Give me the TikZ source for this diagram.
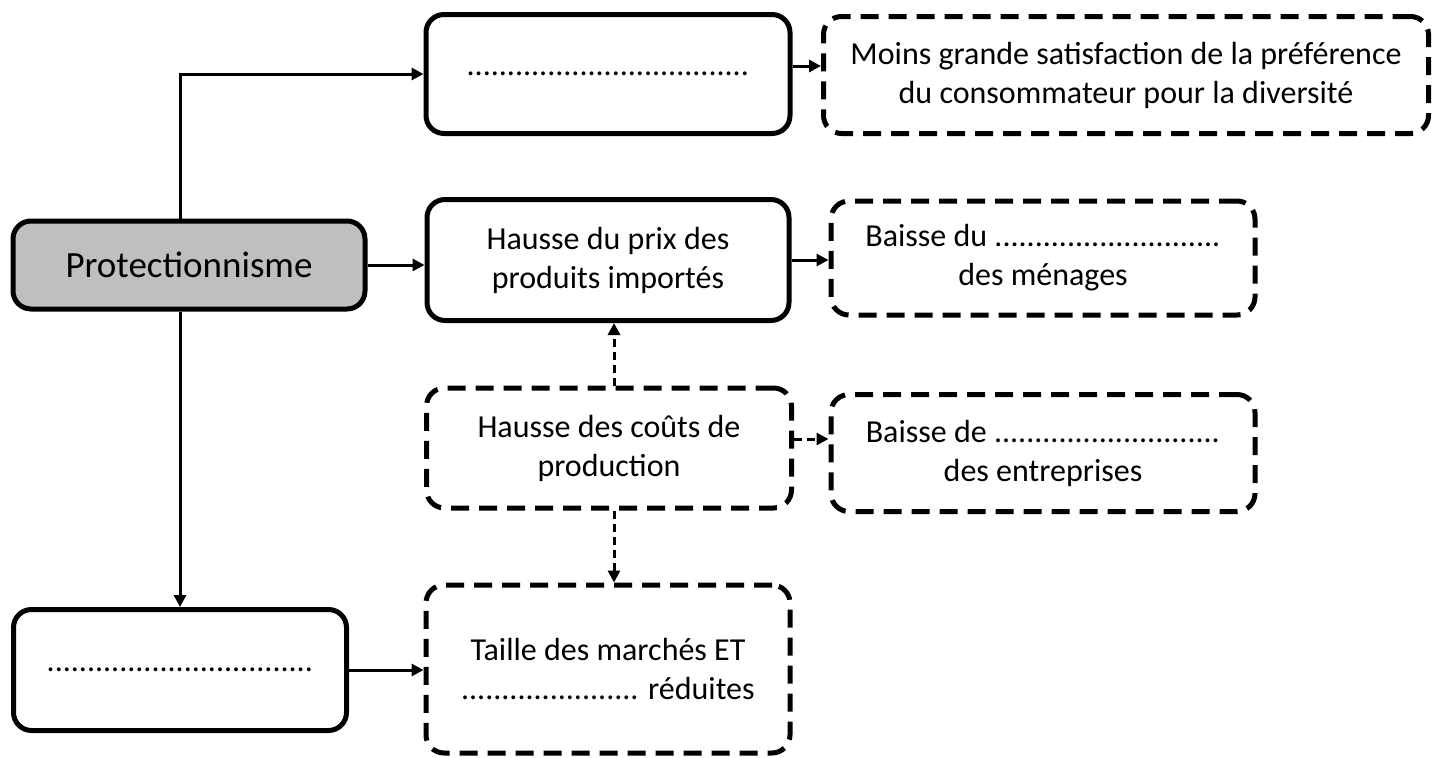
\documentclass[tikz,border=0pt]{standalone}
\usepackage{fontspec}
\setmainfont{Carlito}
\usetikzlibrary{arrows.meta,positioning}

\begin{document}
\begin{tikzpicture}[x=1pt,y=-1pt,
  solidbox/.style={draw,line width=5pt,rounded corners=18pt,align=center,
    inner sep=0pt,font=\fontsize{32}{39}\selectfont},
  dashbox/.style={solidbox,dash pattern=on 18pt off 10pt},
  link/.style={line width=3pt,-{Triangle[length=12pt,width=12pt]}},
  dlink/.style={link,dash pattern=on 8pt off 5pt}]
\useasboundingbox (0,0) rectangle (1433,758);

\node[solidbox,fill=black!25,minimum width=352pt,minimum height=88pt,
  font=\fontsize{37}{40}\selectfont] (b0) at (189,265) {Protectionnisme};
\node[solidbox,minimum width=364pt,minimum height=119pt] (b1) at (608,74)
  {...................................};
\node[solidbox,minimum width=362pt,minimum height=121pt] (b2) at (608,260)
  {Hausse du prix des\\produits importés};
\node[dashbox,minimum width=365pt,minimum height=120pt] (b3) at (609,448)
  {Hausse des coûts de\\production};
\node[solidbox,minimum width=333pt,minimum height=121pt] (b4) at (180,670)
  {.................................};

\node[dashbox,minimum width=605pt,minimum height=117pt] (d1) at (1126,75)
  {Moins grande satisfaction de la préférence\\du consommateur pour la diversité};
\node[dashbox,minimum width=424pt,minimum height=114pt] (d2) at (1043,258)
  {Baisse du ............................\\des ménages};
\node[dashbox,minimum width=424pt,minimum height=117pt] (d3) at (1043,453)
  {Baisse de ............................\\des entreprises};
\node[dashbox,minimum width=364pt,minimum height=168pt] (d4) at (608,669)
  {Taille des marchés ET\\...................... réduites};

%\draw[help lines] (0,0) grid[step=100] (1433,758);
\draw[link] (b0.north -| b4.north) |- (b1.west);
\draw[link] (b0.south -| b4.north) -- (b4.north);
\draw[link] (b0.east) -- (b0.east -| b2.west);
\draw[link] (b4.east) -- (b4.east -| d4.west);
\draw[link] ([yshift=8pt]b1.east) -- ([yshift=8pt]b1.east -| d1.west);
\draw[link] (b2.east) -- (b2.east -| d2.west);

\draw[dlink] ([xshift=5pt]b3.north) -- ([xshift=5pt]b3.north |- b2.south);
\draw[dlink] ([yshift=9pt]b3.east) -- ([yshift=9pt]b3.east -| d3.west);
\draw[dlink] ([xshift=5pt]b3.south) -- ([xshift=5pt]b3.south |- d4.north);

\end{tikzpicture}
\end{document}
